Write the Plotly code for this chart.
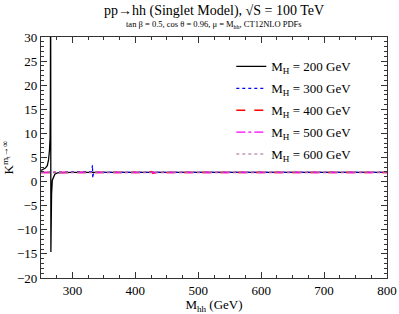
import plotly.graph_objects as go

# M_H = 200 GeV
mhh_200 = [250, 254, 257, 260, 262, 263.5, 264.4, 264.9, 265.3, 265.7, 266.2, 266.8, 268, 270, 272, 276, 280, 300, 350, 400, 500, 600, 700, 800]
k_200 = [2.3, 2.5, 2.8, 3.3, 4.5, 6.5, 9.0, 16.0, 45.0, -14.6, -6.0, -2.5, 0.3, 1.2, 1.55, 1.8, 1.85, 1.9, 1.9, 1.9, 1.9, 1.9, 1.9, 1.9]

# M_H = 300 GeV
mhh_300 = [250, 275, 300, 320, 328, 330, 331, 331.8, 332.3, 333, 335, 340, 360, 400, 450, 500, 550, 600, 650, 700, 750, 800]
k_300 = [1.9, 1.9, 1.9, 1.9, 1.95, 2.05, 2.4, 3.4, 0.7, 1.5, 1.8, 1.9, 1.9, 1.9, 1.9, 1.9, 1.9, 1.9, 1.9, 1.9, 1.9, 1.9]

# M_H = 400 GeV
mhh_400 = [250, 275, 300, 325, 350, 375, 400, 420, 426, 428, 432, 450, 475, 500, 550, 600, 650, 700, 750, 800]
k_400 = [1.9, 1.9, 1.9, 1.9, 1.9, 1.9, 1.9, 1.9, 2.1, 1.7, 1.85, 1.9, 1.9, 1.9, 1.9, 1.9, 1.9, 1.9, 1.9, 1.9]

# M_H = 500 GeV
mhh_500 = [250, 275, 300, 325, 350, 375, 400, 425, 450, 475, 500, 525, 550, 575, 600, 650, 700, 750, 800]
k_500 = [1.9, 1.9, 1.9, 1.9, 1.9, 1.9, 1.9, 1.9, 1.9, 1.9, 1.9, 1.9, 1.9, 1.9, 1.9, 1.9, 1.9, 1.9, 1.9]

# M_H = 600 GeV
mhh_600 = [250, 275, 300, 325, 350, 375, 400, 450, 500, 550, 600, 625, 650, 700, 750, 800]
k_600 = [1.9, 1.9, 1.9, 1.9, 1.9, 1.9, 1.9, 1.9, 1.9, 1.9, 1.9, 1.9, 1.9, 1.9, 1.9, 1.9]

series = [
    ("M<sub>H</sub> = 200 GeV", mhh_200, k_200, "black", "solid", 1.3),
    ("M<sub>H</sub> = 300 GeV", mhh_300, k_300, "blue", "dot", 1.2),
    ("M<sub>H</sub> = 400 GeV", mhh_400, k_400, "red", "dash", 1.4),
    ("M<sub>H</sub> = 500 GeV", mhh_500, k_500, "#ff00ff", "dashdot", 1.4),
    ("M<sub>H</sub> = 600 GeV", mhh_600, k_600, "#a06a90", "dot", 1.2),
]

FONT = "'Liberation Serif', 'Times New Roman', serif"

fig = go.Figure()
for i, (name, x, y, c, d, w) in enumerate(series):
    fig.add_trace(go.Scatter(x=x, y=y, mode="lines", name=name,
                             line=dict(color=c, dash=d, width=w),
                             legendgroup=f"g{i}"))

axis_common = dict(showgrid=False, zeroline=False, showline=True, linecolor="#333",
                   linewidth=1.2, mirror="allticks", ticks="inside", ticklen=6,
                   tickcolor="#333", automargin=False,
                   tickfont=dict(family=FONT, size=13, color="black"))

fig.update_layout(
    width=399, height=314,
    margin=dict(l=40.5, r=12, t=37, b=36),
    paper_bgcolor="white", plot_bgcolor="white",
    font=dict(family=FONT, color="black"),
    showlegend=True,
    legend=dict(x=0.55, y=0.94, xanchor="left", yanchor="top",
                bgcolor="rgba(0,0,0,0)", font=dict(family=FONT, size=13),
                tracegroupgap=2),
    xaxis=dict(range=[250, 800], tick0=0, dtick=100,
               minor=dict(dtick=25, ticks="inside", ticklen=3, tickcolor="#333"),
               title=dict(text="M<sub>hh</sub> (GeV)", font=dict(family=FONT, size=13), standoff=2),
               **axis_common),
    yaxis=dict(range=[-20, 30], tick0=0, dtick=5,
               minor=dict(dtick=1, ticks="inside", ticklen=3, tickcolor="#333"),
               title=dict(text="K<sup>m<sub>t</sub>→∞</sup>", font=dict(family=FONT, size=13), standoff=0),
               **axis_common),
    annotations=[
        dict(text="pp→hh (Singlet Model), √S = 100 TeV", xref="paper", yref="paper",
             x=0.5, y=1, yshift=26, showarrow=False, yanchor="middle",
             font=dict(family=FONT, size=14)),
        dict(text="tan β = 0.5, cos θ = 0.96, μ = M<sub>hh</sub>, CT12NLO PDFs", xref="paper", yref="paper",
             x=0.5, y=1, yshift=13, showarrow=False, yanchor="middle",
             font=dict(family=FONT, size=8.5)),
    ],
)

fig.write_html("out.html", config={"displayModeBar": False},
               post_script="document.body.style.margin='0';")
